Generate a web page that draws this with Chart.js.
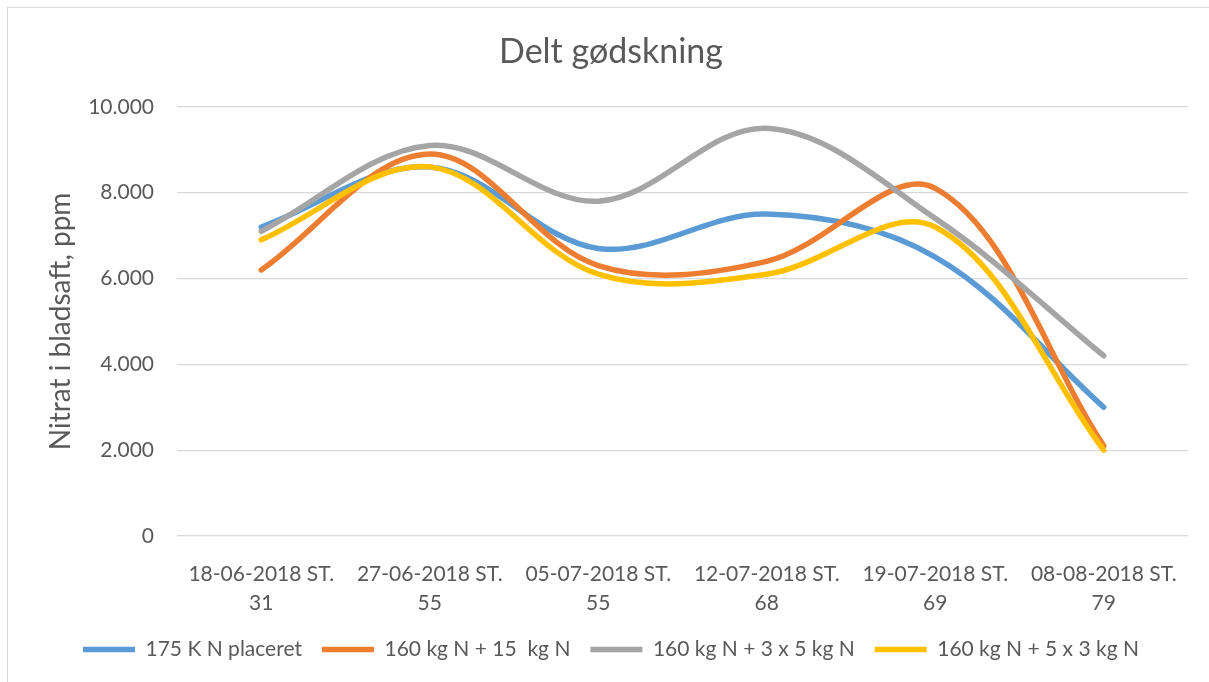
<!DOCTYPE html>
<html>
<head>
<meta charset="utf-8">
<script src="https://cdn.jsdelivr.net/npm/chart.js@4/dist/chart.umd.min.js"></script>
<style>
  html, body { margin: 0; padding: 0; background: #fff; overflow: hidden; }
  #wrap { position: relative; width: 1209px; height: 682px; }
  #frame { position: absolute; left: 7px; top: 7px; width: 1400px; height: 900px;
           border-left: 1px solid #d9d9d9; border-top: 1px solid #d9d9d9; }
  canvas { position: absolute; left: 0; top: 0; }
</style>
</head>
<body>
<div id="wrap">
  <div id="frame"></div>
  <canvas id="chart" width="1209" height="682"></canvas>
</div>
<script>
// kategorier (dato + stadie)
const dates = ['18-06-2018 ST.', '27-06-2018 ST.', '05-07-2018 ST.', '12-07-2018 ST.', '19-07-2018 ST.', '08-08-2018 ST.'];
const stages = ['31', '55', '55', '68', '69', '79'];

// serier, ppm
const seriesNames = ['175 K N placeret', '160 kg N + 15  kg N', '160 kg N + 3 x 5 kg N', '160 kg N + 5 x 3 kg N'];
const placeret = [7200, 8600, 6700, 7500, 6500, 3000];
const delt15 = [6200, 8900, 6300, 6400, 8100, 2100];
const delt3x5 = [7100, 9100, 7800, 9500, 7400, 4200];
const delt5x3 = [6900, 8600, 6100, 6100, 7200, 2000];

const yTicks = [0, 2000, 4000, 6000, 8000, 10000];

const colors = ['#5B9BD5', '#ED7D31', '#A5A5A5', '#FFC000'];
const textColor = '#595959';
const FONT = 'Lato, "Open Sans", sans-serif';

const PAD_LEFT = 34;
const PLOT_LEFT = 177, PLOT_RIGHT = 1188, PLOT_BOTTOM = 536;
const PAD_BOTTOM = 12;

function fmt(v) {
    // dansk tusindtalsseparator
    return String(v).replace(/\B(?=(\d{3})+(?!\d))/g, '.');
}

function makeSet(i, values) {
    return {
        label: seriesNames[i],
        data: values,
        borderColor: colors[i],
        backgroundColor: colors[i],
        borderWidth: 5.5,
        borderCapStyle: 'round',
        borderJoinStyle: 'round',
        pointRadius: 0,
        pointHoverRadius: 0,
        pointStyle: 'line',
        tension: 0.35,
        fill: false,
        order: 4 - i   // sidste serie tegnes øverst, som i Excel
    };
}

const labels = dates.map((d, i) => [d, stages[i]]);

new Chart(document.getElementById('chart'), {
    type: 'line',
    data: {
        labels: labels,
        datasets: [
            makeSet(0, placeret),
            makeSet(1, delt15),
            makeSet(2, delt3x5),
            makeSet(3, delt5x3)
        ]
    },
    options: {
        responsive: false,
        animation: false,
        layout: { padding: { left: PAD_LEFT, right: 1209 - PLOT_RIGHT, top: 0, bottom: PAD_BOTTOM } },
        plugins: {
            tooltip: { enabled: false },
            title: {
                display: true,
                text: 'Delt gødskning',
                color: textColor,
                font: { family: FONT, size: 34, weight: 'normal', lineHeight: 1.2 },
                padding: { top: 32, bottom: 34 }
            },
            legend: {
                position: 'bottom',
                labels: {
                    color: textColor,
                    font: { family: FONT, size: 21 },
                    usePointStyle: true,
                    pointStyleWidth: 52,
                    padding: 20,
                    sort: (a, b) => a.datasetIndex - b.datasetIndex
                }
            }
        },
        scales: {
            x: {
                offset: true,
                grid: { display: false },
                border: { display: false },
                ticks: {
                    color: textColor,
                    font: { family: FONT, size: 21, lineHeight: 1.38 },
                    padding: 16,
                    maxRotation: 0,
                    autoSkip: false
                },
                afterFit: (scale) => {
                    const lg = scale.chart.legend ? scale.chart.legend.height : 50;
                    scale.height = 682 - PAD_BOTTOM - lg - PLOT_BOTTOM;
                }
            },
            y: {
                min: 0,
                max: 10000,
                afterBuildTicks: (scale) => { scale.ticks = yTicks.map(v => ({ value: v })); },
                grid: { color: '#d9d9d9', lineWidth: 1.3, drawTicks: false },
                border: { display: false },
                ticks: {
                    color: textColor,
                    font: { family: FONT, size: 21 },
                    padding: 23,
                    callback: (v) => fmt(v)
                },
                title: {
                    display: true,
                    text: 'Nitrat i bladsaft, ppm',
                    color: textColor,
                    font: { family: FONT, size: 28, lineHeight: 1.2 },
                    padding: { top: 44 - PAD_LEFT, bottom: 0 }
                },
                afterFit: (scale) => { scale.width = PLOT_LEFT - PAD_LEFT; }
            }
        }
    }
});
</script>
</body>
</html>
